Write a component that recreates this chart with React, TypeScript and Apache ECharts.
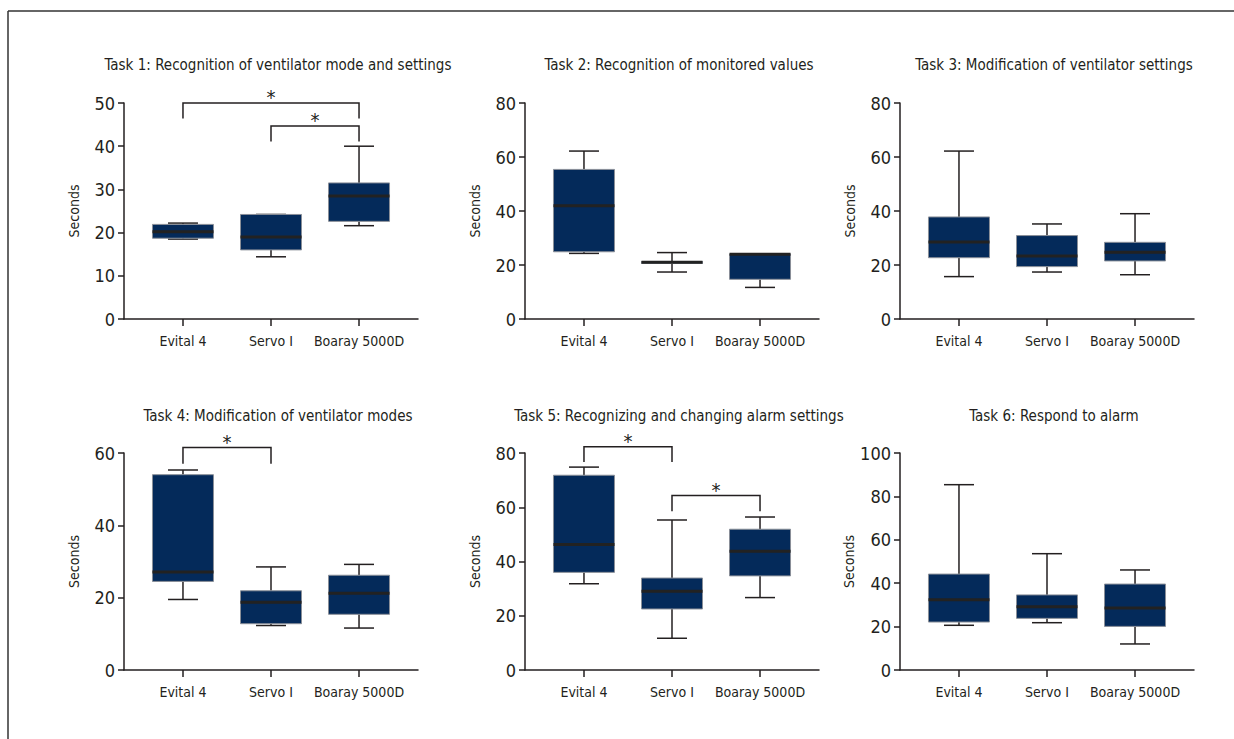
import React, { useEffect, useRef } from "react";
import * as echarts from "echarts";

const categories = ["Evital 4", "Servo I", "Boaray 5000D"];
const titles = [
  "Task 1: Recognition of ventilator mode and settings",
  "Task 2: Recognition of monitored values",
  "Task 3: Modification of ventilator settings",
  "Task 4: Modification of ventilator modes",
  "Task 5: Recognizing and changing alarm settings",
  "Task 6: Respond to alarm",
];
const yMaxes = [50, 80, 80, 60, 80, 100];
const ySteps = [10, 20, 20, 20, 20, 20];

// [min, Q1, median, Q3, max] per category
const task1 = [[18.5, 18.7, 20.2, 21.9, 22.2], [14.4, 16.0, 19.0, 24.2, 24.2], [21.6, 22.6, 28.5, 31.5, 40.0]];
const task2 = [[24.3, 24.9, 41.9, 55.4, 62.2], [17.4, 20.6, 21.0, 21.3, 24.6], [11.7, 14.7, 24.0, 24.1, 24.1]];
const task3 = [[15.7, 22.7, 28.5, 37.8, 62.2], [17.4, 19.4, 23.3, 30.9, 35.2], [16.4, 21.5, 24.7, 28.4, 39.0]];
const task4 = [[19.5, 24.5, 27.1, 54.0, 55.3], [12.3, 12.8, 18.7, 21.9, 28.5], [11.6, 15.4, 21.2, 26.2, 29.2]];
const task5 = [[31.8, 36.0, 46.3, 71.8, 74.8], [11.7, 22.5, 29.0, 33.9, 55.3], [26.7, 34.7, 43.8, 51.9, 56.4]];
const task6 = [[20.6, 22.1, 32.4, 44.2, 85.4], [21.8, 23.8, 29.2, 34.6, 53.6], [12.0, 20.1, 28.6, 39.6, 46.1]];
const tasks = [task1, task2, task3, task4, task5, task6];

// significance brackets: [fromCategory, toCategory, level, dropTo]
const sig1 = [[0, 2, 50, 46.4], [1, 2, 44.7, 41.1]];
const sig2: number[][] = [];
const sig3: number[][] = [];
const sig4 = [[0, 1, 61.5, 57.0]];
const sig5 = [[0, 1, 82.3, 76.7], [1, 2, 64.3, 58.5]];
const sig6: number[][] = [];
const sigs = [sig1, sig2, sig3, sig4, sig5, sig6];

const FONT = "'DejaVu Sans Condensed', 'Liberation Sans', sans-serif";
const INK = "#231f20";
const NAVY = "#042a5a";

export default function App() {
  const ref = useRef<HTMLDivElement>(null);
  useEffect(() => {
    if (!ref.current) return;
    const chart = echarts.init(ref.current, undefined, { renderer: "svg" });
    const lefts = [124, 525, 900];
    const tops = [103, 453];
    const heights = [216, 217];
    const width = 294;
    const grids: any[] = [];
    const xAxes: any[] = [];
    const yAxes: any[] = [];
    const series: any[] = [];
    const title: any[] = [];
    for (let i = 0; i < 6; i++) {
      const col = i % 3;
      const row = Math.floor(i / 3);
      grids.push({ left: lefts[col], top: tops[row], width, height: heights[row] });
      title.push({
        text: titles[i],
        left: lefts[col] + width / 2 + 2,
        top: (row === 0 ? 64 : 415) - 12,
        textAlign: "center",
        textStyle: { fontFamily: FONT, fontSize: 15, fontWeight: "normal", color: INK },
      });
      xAxes.push({
        type: "value",
        gridIndex: i,
        min: -0.67,
        max: 2.67,
        splitLine: { show: false },
        axisLine: { show: true, onZero: false, lineStyle: { color: INK, width: 1.5 } },
        axisTick: { show: true, customValues: [0, 1, 2], length: 7, lineStyle: { color: INK, width: 1.5 } },
        axisLabel: {
          customValues: [0, 1, 2],
          formatter: (v: number) => categories[Math.round(v)] ?? "",
          fontFamily: FONT,
          fontSize: 14,
          color: INK,
          margin: 15,
        },
      });
      yAxes.push({
        type: "value",
        gridIndex: i,
        min: 0,
        max: yMaxes[i],
        interval: ySteps[i],
        name: "Seconds",
        nameLocation: "middle",
        nameRotate: 90,
        nameGap: 43,
        nameTextStyle: { fontFamily: FONT, fontSize: 14, color: INK },
        splitLine: { show: false },
        axisLine: { show: true, onZero: false, lineStyle: { color: INK, width: 1.5 } },
        axisTick: { show: true, length: 6, lineStyle: { color: INK, width: 1.5 } },
        axisLabel: { fontFamily: FONT, fontSize: 18, color: INK, margin: 9 },
      });
      series.push({
        type: "custom",
        xAxisIndex: i,
        yAxisIndex: i,
        encode: { x: 0, y: [1, 2, 3, 4, 5] },
        data: tasks[i].map((d, k) => [k, ...d]),
        renderItem: (params: any, api: any) => {
          const x = api.value(0);
          const vals = [1, 2, 3, 4, 5].map((j) => api.value(j));
          const p = vals.map((v) => api.coord([x, v]));
          const cx = p[0][0];
          const half = 30.5;
          const cap = 15;
          const line = { stroke: INK, lineWidth: 1.5 };
          return {
            type: "group",
            children: [
              { type: "line", shape: { x1: cx, y1: p[3][1], x2: cx, y2: p[4][1] }, style: line },
              { type: "line", shape: { x1: cx - cap, y1: p[4][1], x2: cx + cap, y2: p[4][1] }, style: line },
              { type: "line", shape: { x1: cx, y1: p[0][1], x2: cx, y2: p[1][1] }, style: line },
              { type: "line", shape: { x1: cx - cap, y1: p[0][1], x2: cx + cap, y2: p[0][1] }, style: line },
              {
                type: "rect",
                shape: { x: cx - half, y: p[3][1], width: half * 2, height: p[1][1] - p[3][1] },
                style: { fill: NAVY, stroke: "#8a8f98", lineWidth: 1 },
              },
              { type: "line", shape: { x1: cx - half, y1: p[2][1], x2: cx + half, y2: p[2][1] }, style: { stroke: "#222", lineWidth: 3 } },
            ],
          };
        },
      });
      if (sigs[i].length) {
        series.push({
          type: "custom",
          xAxisIndex: i,
          yAxisIndex: i,
          encode: { x: [0, 1], y: [2, 3] },
          data: sigs[i],
          renderItem: (params: any, api: any) => {
            const a = api.value(0);
            const b = api.value(1);
            const lv = api.value(2);
            const dr = api.value(3);
            const pl = api.coord([a, lv]);
            const pr = api.coord([b, lv]);
            const pld = api.coord([a, dr]);
            const prd = api.coord([b, dr]);
            return {
              type: "group",
              children: [
                {
                  type: "polyline",
                  shape: { points: [pld, pl, pr, prd] },
                  style: { stroke: INK, lineWidth: 1.5, fill: "none" },
                },
                {
                  type: "text",
                  x: (pl[0] + pr[0]) / 2,
                  y: pl[1] - 6,
                  style: { text: "*", fontFamily: FONT, fontSize: 20, fill: INK, align: "center", verticalAlign: "middle" },
                },
              ],
            };
          },
        });
      }
    }
    chart.setOption({
      animation: false,
      backgroundColor: "#ffffff",
      title,
      grid: grids,
      xAxis: xAxes,
      yAxis: yAxes,
      series,
      graphic: [
        { type: "line", shape: { x1: 8, y1: 11, x2: 1234, y2: 11 }, style: { stroke: "#333", lineWidth: 1.5 } },
        { type: "line", shape: { x1: 8, y1: 11, x2: 8, y2: 739 }, style: { stroke: "#333", lineWidth: 1.5 } },
      ],
    });
    return () => chart.dispose();
  }, []);
  return <div ref={ref} style={{ position: "fixed", left: 0, top: 0, width: 1234, height: 739, background: "#fff" }} />;
}
